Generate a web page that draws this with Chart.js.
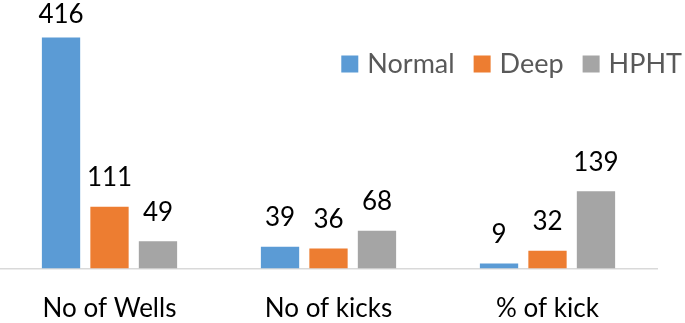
<!DOCTYPE html>
<html>
<head>
<meta charset="utf-8">
<script src="https://cdn.jsdelivr.net/npm/chart.js@4"></script>
<style>
  body { margin: 0; background: #fff; }
  canvas { display: block; }
</style>
</head>
<body>
<canvas id="kicks" width="685" height="323"></canvas>
<script>
// data
const categories = ['No of Wells', 'No of kicks', '% of kick'];
const normalVals = [416, 39, 9];
const deepVals = [111, 36, 32];
const hphtVals = [49, 68, 139];
const yMax = 450;

const FONT = 'Lato';

// value labels above the bars + legend in the top right
const barText = {
  id: 'barText',
  afterDatasetsDraw(chart) {
    const ctx = chart.ctx;
    ctx.save();
    ctx.font = '26px ' + FONT;
    ctx.fillStyle = '#000';
    ctx.textAlign = 'center';
    ctx.textBaseline = 'middle';
    chart.data.datasets.forEach((ds, i) => {
      chart.getDatasetMeta(i).data.forEach((bar, j) => {
        let y = Math.max(bar.y - 29, 15);
        ctx.fillText(ds.data[j], bar.x, y);
      });
    });
    ctx.restore();
  },
  afterDraw(chart) {
    const ctx = chart.ctx;
    ctx.save();
    ctx.font = '27px ' + FONT;
    ctx.textBaseline = 'middle';
    const box = 17, gap = 9, spacing = 19;
    const items = chart.data.datasets;
    let total = 0;
    items.forEach((ds, i) => {
      total += box + gap + ctx.measureText(ds.label).width;
      if (i < items.length - 1) total += spacing;
    });
    let x = 682 - total;
    const cy = 64;
    items.forEach(ds => {
      ctx.fillStyle = ds.backgroundColor;
      ctx.fillRect(x, cy - box / 2, box, box);
      x += box + gap;
      ctx.fillStyle = '#595959';
      ctx.fillText(ds.label, x, cy);
      x += ctx.measureText(ds.label).width + spacing;
    });
    ctx.restore();
  }
};

new Chart(document.getElementById('kicks'), {
  type: 'bar',
  data: {
    labels: categories,
    datasets: [
      { label: 'Normal', data: normalVals, backgroundColor: '#5B9BD5' },
      { label: 'Deep', data: deepVals, backgroundColor: '#ED7D31' },
      { label: 'HPHT', data: hphtVals, backgroundColor: '#A5A5A5' }
    ]
  },
  options: {
    responsive: false,
    animation: false,
    categoryPercentage: 0.664,
    barPercentage: 0.79,
    layout: { padding: { top: 18.5, right: 28, bottom: 0, left: 0 } },
    plugins: {
      legend: { display: false },
      tooltip: { enabled: false }
    },
    scales: {
      x: {
        grid: { display: false, drawTicks: false },
        border: { display: true, color: '#D9D9D9', width: 1.5 },
        ticks: { color: '#000', padding: 25, font: { family: FONT, size: 26 } },
        afterFit(scale) { scale.height = 54.5; }
      },
      y: {
        display: false,
        min: 0,
        max: yMax
      }
    }
  },
  plugins: [barText]
});
</script>
</body>
</html>
